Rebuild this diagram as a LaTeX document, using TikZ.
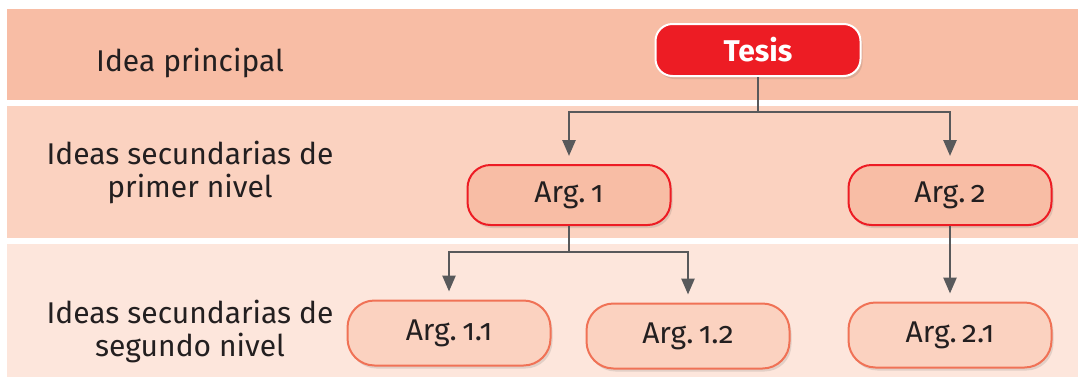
\documentclass[tikz,border=0pt]{standalone}
\usepackage{fontspec}
\setmainfont{Fira Sans}[Numbers=OldStyle]
\usetikzlibrary{arrows.meta,shadows}
\definecolor{bandA}{HTML}{F8BDA5}
\definecolor{bandB}{HTML}{FBD2C0}
\definecolor{bandC}{HTML}{FDE6DC}
\definecolor{tred}{HTML}{ED1C24}
\definecolor{coral}{HTML}{F07256}
\definecolor{conngray}{HTML}{58595B}
\definecolor{ink}{HTML}{231F20}
\newcommand{\argsp}{\hspace{0.18em}}
\begin{document}
\begin{tikzpicture}[x=1pt,y=-1pt,
  lab/.style={text=ink, font=\fontsize{30}{33}\selectfont, align=center, inner sep=0pt},
  boxshadow/.style={drop shadow={shadow xshift=2pt, shadow yshift=-3pt, opacity=0.15, fill=black!70}},
  tesisbox/.style={rounded corners=17pt, fill=tred, draw=white, line width=2pt, minimum width=205pt, minimum height=52pt, text=white, font=\fontsize{30}{33}\selectfont\bfseries, boxshadow},
  argone/.style={rounded corners=23pt, fill=bandA, draw=tred, line width=2pt, minimum width=203pt, minimum height=60pt, text=ink, font=\fontsize{30}{33}\selectfont, boxshadow},
  argtwo/.style={rounded corners=27pt, fill=bandB, draw=coral, line width=2pt, minimum width=203pt, minimum height=65pt, text=ink, font=\fontsize{30}{33}\selectfont, boxshadow},
  conn/.style={draw=conngray, line width=2.6pt},
  arr/.style={conn, -{Triangle[width=13pt,length=16pt]}, shorten >=8pt}
]
\path[use as bounding box] (0,0) rectangle (1078,378);
\fill[white] (0,0) rectangle (1078,378);
\fill[bandA] (7,9) rectangle (1078,100);
\fill[bandB] (7,106) rectangle (1078,238);
\fill[bandC] (7,244) rectangle (1078,377);

\node[lab, anchor=base] (l1) at (190,71) {Idea principal};
\node[lab] (l2) at (190,172) {Ideas secundarias de\\primer nivel};
\node[lab] (l3) at (190,331) {Ideas secundarias de\\segundo nivel};

\node[tesisbox] (t) at (758,50) {Tesis};
\node[argone] (a1) at (569,195) {Arg.\argsp 1};
\node[argone] (a2) at (950,195) {Arg.\argsp 2};
\node[argtwo] (a11) at (449,333) {Arg.\argsp 1.1};
\node[argtwo] (a12) at (688,336) {Arg.\argsp 1.2};
\node[argtwo] (a21) at (950,335) {Arg.\argsp 2.1};

\coordinate (j1) at (758,112);
\coordinate (j2) at (569,252);
\draw[conn] (t.south) -- (j1);
\draw[arr] (j1) -| (a1.north);
\draw[arr] (j1) -| (a2.north);
\draw[conn] (a1.south) -- (j2);
\draw[arr] (j2) -| (a11.north);
\draw[arr] (j2) -| (a12.north);
\draw[arr] (a2.south) -- (a21.north);
\end{tikzpicture}
\end{document}
